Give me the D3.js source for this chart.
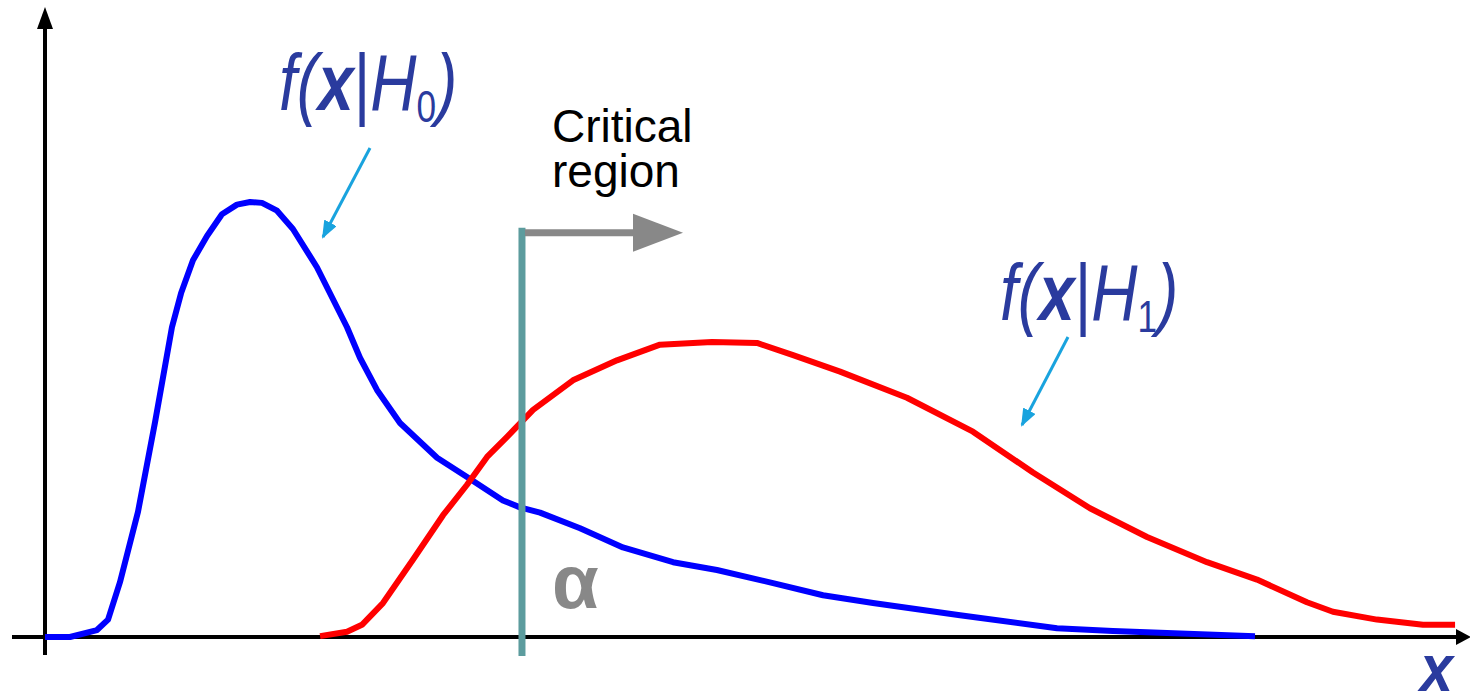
<!DOCTYPE html>
<html>
<head>
<meta charset="utf-8">
<script src="https://cdn.jsdelivr.net/npm/d3@7"></script>
<style>
  html, body { margin: 0; padding: 0; background: #fff; overflow: hidden; }
  svg { display: block; }
</style>
</head>
<body>
<script>
(function (d3) {
  "use strict";

  /***** Data *****/
  // f(x|H0) density
  var h0X = [0, 0.176, 0.366, 0.444, 0.528, 0.655, 0.775, 0.894, 0.958, 1.042, 1.141, 1.246, 1.352, 1.444, 1.528,
    1.634, 1.746, 1.915, 2.127, 2.218, 2.338, 2.5, 2.761, 2.972, 3.225, 3.345, 3.486, 3.768, 4.07, 4.423, 4.732,
    5.127, 5.479, 5.831, 6.444, 7.127, 7.521, 8.521];
  var h0Y = [0, 0, 0.008, 0.02, 0.063, 0.144, 0.247, 0.356, 0.395, 0.433, 0.461, 0.486, 0.497, 0.5, 0.499,
    0.49, 0.469, 0.425, 0.356, 0.321, 0.284, 0.246, 0.206, 0.184, 0.157, 0.149, 0.143, 0.125, 0.103, 0.086, 0.077,
    0.062, 0.048, 0.039, 0.025, 0.01, 0.007, 0.001];

  // f(x|H1) density
  var h1X = [1.937, 2.127, 2.232, 2.38, 2.592, 2.803, 2.972, 3.113, 3.254, 3.437, 3.718, 4.028, 4.331, 4.697,
    5.014, 5.268, 5.599, 6.07, 6.535, 6.958, 7.359, 7.761, 8.183, 8.535, 8.887, 9.07, 9.38, 9.704, 9.93];
  var h1Y = [0.001, 0.006, 0.014, 0.039, 0.089, 0.14, 0.175, 0.207, 0.23, 0.261, 0.295, 0.318, 0.336, 0.339,
    0.338, 0.324, 0.305, 0.275, 0.236, 0.189, 0.148, 0.115, 0.086, 0.066, 0.04, 0.029, 0.02, 0.014, 0.014];

  var criticalValue = 3.359;
  var criticalTop = 0.468;
  var regionEnd = 4.493;

  /***** Configuration *****/
  var W = 1470, H = 692;
  var x = d3.scaleLinear().domain([0, 10]).range([45, 1465]);
  var y = d3.scaleLinear().domain([0, 0.5]).range([637, 202]);
  var font = "'Liberation Sans', Arial, sans-serif";

  var svg = d3.select("body").append("svg")
    .attr("width", W).attr("height", H);

  var defs = svg.append("defs");
  defs.append("marker")
    .attr("id", "cyanHead")
    .attr("markerUnits", "userSpaceOnUse")
    .attr("viewBox", "0 0 18 14")
    .attr("refX", 16).attr("refY", 7)
    .attr("markerWidth", 18).attr("markerHeight", 14)
    .attr("orient", "auto")
    .append("path").attr("d", "M0,0L18,7L0,14Z").attr("fill", "#19a3de");

  /***** Axes *****/
  var axisColor = "#000";
  svg.append("line")
    .attr("x1", 12).attr("y1", y(0)).attr("x2", 1457).attr("y2", y(0))
    .attr("stroke", axisColor).attr("stroke-width", 4);
  svg.append("path")
    .attr("d", "M1456," + (y(0) - 8) + "L1471," + y(0) + "L1456," + (y(0) + 8) + "Z")
    .attr("fill", axisColor);
  svg.append("line")
    .attr("x1", x(0)).attr("y1", 655).attr("x2", x(0)).attr("y2", 28)
    .attr("stroke", axisColor).attr("stroke-width", 4);
  svg.append("path")
    .attr("d", "M" + (x(0) - 8) + ",29L" + x(0) + ",7L" + (x(0) + 8) + ",29Z")
    .attr("fill", axisColor);

  /***** Curves *****/
  var line = d3.line()
    .x(function (d) { return x(d[0]); })
    .y(function (d) { return y(d[1]); });

  svg.append("path")
    .datum(d3.zip(h0X, h0Y))
    .attr("d", line)
    .attr("fill", "none").attr("stroke", "#0000ff")
    .attr("stroke-width", 6).attr("stroke-linejoin", "round");

  svg.append("path")
    .datum(d3.zip(h1X, h1Y))
    .attr("d", line)
    .attr("fill", "none").attr("stroke", "#ff0000")
    .attr("stroke-width", 6).attr("stroke-linejoin", "round");

  /***** Critical region *****/
  svg.append("line")
    .attr("x1", x(criticalValue)).attr("x2", x(criticalValue))
    .attr("y1", y(criticalTop) - 2).attr("y2", 656)
    .attr("stroke", "#5c9c9e").attr("stroke-width", 7);

  var ay = y(criticalTop) + 3;
  svg.append("line")
    .attr("x1", x(criticalValue) + 3).attr("x2", x(regionEnd) - 48)
    .attr("y1", ay).attr("y2", ay)
    .attr("stroke", "#888888").attr("stroke-width", 7);
  svg.append("path")
    .attr("d", "M" + (x(regionEnd) - 50) + "," + (ay - 19) + "L" + x(regionEnd) + "," + ay +
      "L" + (x(regionEnd) - 50) + "," + (ay + 19) + "Z")
    .attr("fill", "#888888");

  var crit = svg.append("text")
    .attr("font-family", font)
    .attr("font-size", 46).attr("fill", "#000");
  crit.append("tspan").attr("x", 552).attr("y", 142).text("Critical");
  crit.append("tspan").attr("x", 552).attr("y", 187).text("region");

  svg.append("text")
    .attr("x", 552).attr("y", 608)
    .attr("font-family", font)
    .attr("font-size", 76).attr("font-weight", "bold").attr("fill", "#888888")
    .text("α");

  /***** Labels *****/
  var labelBlue = "#2a3b9e";
  function densityLabel(px, py, sub) {
    var g = svg.append("g").attr("transform", "translate(" + px + "," + py + ") scale(0.8,1)");
    var t = g.append("text")
      .attr("font-family", font)
      .attr("font-size", 80).attr("font-style", "italic").attr("fill", labelBlue);
    t.append("tspan").text("f(");
    t.append("tspan").attr("font-weight", "bold").text("x");
    t.append("tspan").attr("font-style", "normal").text("|");
    t.append("tspan").text("H");
    t.append("tspan").attr("font-style", "normal").attr("font-size", 44).attr("dy", 12).text(sub);
    t.append("tspan").attr("dy", -12).text(")");
  }
  densityLabel(279, 110, "0");
  densityLabel(1000, 320, "1");

  function pointer(x1, y1, x2, y2) {
    svg.append("line")
      .attr("x1", x1).attr("y1", y1).attr("x2", x2).attr("y2", y2)
      .attr("stroke", "#19a3de").attr("stroke-width", 3)
      .attr("marker-end", "url(#cyanHead)");
  }
  pointer(370, 148, 323, 237);
  pointer(1068, 337, 1022, 425);

  var xg = svg.append("g").attr("transform", "translate(1420,691) scale(0.9,1)");
  xg.append("text")
    .attr("font-family", font)
    .attr("font-size", 66).attr("font-style", "italic").attr("font-weight", "bold")
    .attr("fill", labelBlue)
    .text("x");

})(d3);
</script>
</body>
</html>
